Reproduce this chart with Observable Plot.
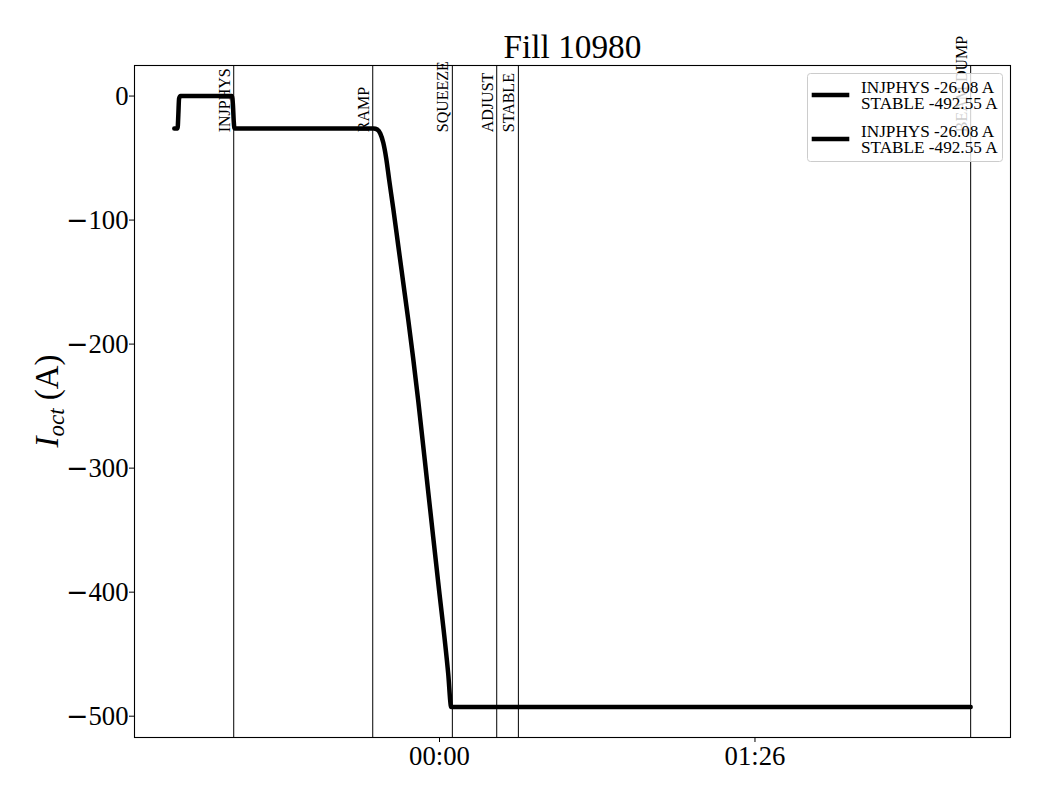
<!DOCTYPE html>
<html><head><meta charset="utf-8">
<script src="https://cdn.jsdelivr.net/npm/d3@7"></script>
<script src="https://cdn.jsdelivr.net/npm/@observablehq/plot@0.6"></script>
<style>body{margin:0;background:#fff} #chart{width:1040px;height:800px}</style>
</head><body><div id="chart"></div>
<script>
// Data (minutes relative to 00:00, current in A)
const curveMinutes = [-72.3, -71.4, -71.2, -71.0, -70.6, -56.6, -56.3, -56.1, -55.9, -17.98, -16.97, -16.15, -15.34, -14.52, -13.70, -12.61, -11.25, -9.89, -8.53, -7.17, -5.80, -3.08, -0.35, 2.37, 3.19, 144.8];
const curveCurrent = [-26.08, -26.08, -15, -2, 0, 0, -8, -20, -26.08, -26.08, -27.0, -30.2, -37.5, -50.4, -68.1, -90.7, -120.6, -150.4, -180.2, -211.7, -245.6, -319, -392.3, -465.7, -492.55, -492.55];
const eventNames = ["INJPHYS", "RAMP", "SQUEEZE", "ADJUST", "STABLE", "BEAM DUMP"];
const eventMinutes = [-56.1, -18.2, 3.5, 15.6, 21.5, 144.8];
const eventLabelCurrent = -29.2;
const xTickValues = [0, 86];
const xTickLabels = ["00:00", "01:26"];
const yTickValues = [0, -100, -200, -300, -400, -500];
const legendEntries = [["INJPHYS -26.08 A", "STABLE -492.55 A"], ["INJPHYS -26.08 A", "STABLE -492.55 A"]];
const titleText = "Fill 10980";

const curve = curveMinutes.map((m, i) => ({m, a: curveCurrent[i]}));
const events = eventNames.map((name, i) => ({name, m: eventMinutes[i], a: eventLabelCurrent}));

const FONT = "'Liberation Serif', 'DejaVu Serif', serif";

const plot = Plot.plot({
  width: 1040, height: 800,
  marginLeft: 134, marginRight: 30, marginTop: 65, marginBottom: 63,
  style: {fontFamily: FONT, background: "#fff", color: "#000"},
  x: {domain: [-83.15, 155.66]},
  y: {domain: [-517.18, 24.63]},
  marks: [
    Plot.ruleX(events, {x: "m", stroke: "#000", strokeWidth: 1}),
    Plot.line(curve, {x: "m", y: "a", stroke: "#000", strokeWidth: 4.5, curve: "monotone-x"}),
    Plot.text(events, {x: "m", y: "a", text: "name", rotate: -90, textAnchor: "start", lineAnchor: "bottom", dx: -4, fontSize: 16, fill: "#000"}),
    Plot.frame({stroke: "#000", strokeWidth: 1.1}),
    Plot.axisX({ticks: xTickValues, tickFormat: d => xTickLabels[xTickValues.indexOf(d)], tickSize: 5, tickPadding: 4, fontSize: 26.7, label: null}),
    Plot.axisY({ticks: yTickValues, tickSize: 5, tickPadding: 1, fontSize: 26.7, label: null}),
    Plot.text([titleText], {frameAnchor: "top", text: d => d, lineAnchor: "bottom", dy: -8, fontSize: 33.3, fill: "#000"})
  ]
});

const svg = d3.select(plot);
// wider minus sign on y tick labels (as in the reference)
svg.selectAll('g[aria-label="y-axis tick label"] text').each(function () {
  const t = d3.select(this);
  const s = t.text();
  if (s.startsWith("\u2212")) {
    t.text(null);
    t.append("tspan").attr("font-family", "'DejaVu Serif', serif").text("\u2212");
    t.append("tspan").text(s.slice(1));
  }
});

// y-axis label
const yl = svg.append("text")
  .attr("transform", "translate(58,401) rotate(-90)")
  .attr("text-anchor", "middle")
  .attr("font-family", FONT)
  .attr("font-size", 33)
  .attr("fill", "#000");
yl.append("tspan").attr("font-style", "italic").text("I");
yl.append("tspan").attr("font-style", "italic").attr("font-size", 23).attr("dy", 6).text("oct");
yl.append("tspan").attr("dy", -6).text(" (A)");

// legend
const lg = svg.append("g").attr("font-family", FONT).attr("font-size", 17.2).attr("fill", "#000").attr("text-anchor", "start");
lg.append("rect").attr("x", 807.5).attr("y", 73.5).attr("width", 195).attr("height", 88).attr("rx", 3)
  .attr("fill", "#fff").attr("fill-opacity", 0.8).attr("stroke", "#cccccc").attr("stroke-width", 1);
legendEntries.forEach((lines, i) => {
  const y0 = 95 + i * 44;
  lg.append("line").attr("x1", 811.7).attr("x2", 849.3).attr("y1", y0).attr("y2", y0)
    .attr("stroke", "#000").attr("stroke-width", 4.5);
  lines.forEach((t, j) => {
    lg.append("text").attr("x", 861).attr("y", y0 - 2.3 + j * 16.3).attr("text-anchor", "start").text(t);
  });
});

document.getElementById("chart").appendChild(plot);
</script>
</body></html>
